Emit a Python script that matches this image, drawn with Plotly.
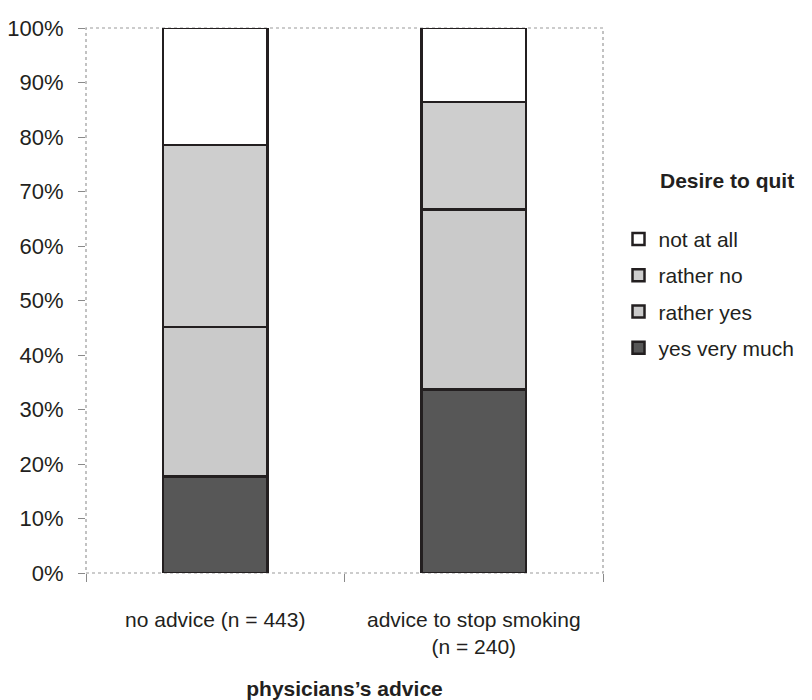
import plotly.graph_objects as go

categories = ["no advice (n = 443)", "advice to stop smoking<br>(n = 240)"]
series_names = ["yes very much", "rather yes", "rather no", "not at all"]
yes_very_much = [17.7, 33.7]
rather_yes = [27.4, 33.0]
rather_no = [33.4, 19.7]
not_at_all = [21.5, 13.6]
y_tick_vals = [0, 10, 20, 30, 40, 50, 60, 70, 80, 90, 100]
y_tick_text = [f"{v}%" for v in y_tick_vals]

values = [yes_very_much, rather_yes, rather_no, not_at_all]
colors = ["#575757", "#cacaca", "#cecece", "#ffffff"]
ranks = [4, 3, 2, 1]

FONT = "Liberation Sans, Arial, sans-serif"

fig = go.Figure()
for name, vals, col, rk in zip(series_names, values, colors, ranks):
    fig.add_trace(go.Bar(
        x=categories, y=vals, name=name,
        marker=dict(color=col, line=dict(color="#231f20", width=2.5)),
        width=0.405, legendgroup=name, legendrank=rk,
    ))

fig.update_layout(
    barmode="stack",
    width=812, height=700,
    margin=dict(l=86, r=207, t=28, b=127),
    paper_bgcolor="white", plot_bgcolor="white",
    font=dict(family=FONT, size=21, color="#231f20"),
    showlegend=True,
    legend=dict(
        x=1.03, xanchor="left", y=0.65, yanchor="top",
        traceorder="grouped", tracegroupgap=6,
        font=dict(size=21), itemwidth=30,
    ),
    xaxis=dict(
        type="category", tickson="boundaries", ticks="outside", ticklen=8,
        tickcolor="#8a8a8a", showline=False, showgrid=False,
        ticklabelstandoff=32, automargin=False,
        title=dict(text="<b>physicians’s advice</b>", standoff=26,
                   font=dict(size=21)),
    ),
    yaxis=dict(
        range=[0, 100], tickvals=y_tick_vals, ticktext=y_tick_text,
        ticks="outside", ticklen=7, tickcolor="#8a8a8a",
        showgrid=False, showline=False, zeroline=False,
        ticklabelstandoff=10, tickfont=dict(size=22), automargin=False,
    ),
    annotations=[dict(
        text="<b>Desire to quit</b>", xref="paper", yref="paper",
        x=1.24, y=0.72, xanchor="center", yanchor="middle",
        showarrow=False, font=dict(size=21),
    )],
    shapes=[dict(
        type="rect", xref="paper", yref="paper", x0=0, x1=1, y0=0, y1=1,
        line=dict(color="#9a9a9a", width=1.2, dash="dot"), layer="below",
    )],
)

fig.write_html("out.html")
